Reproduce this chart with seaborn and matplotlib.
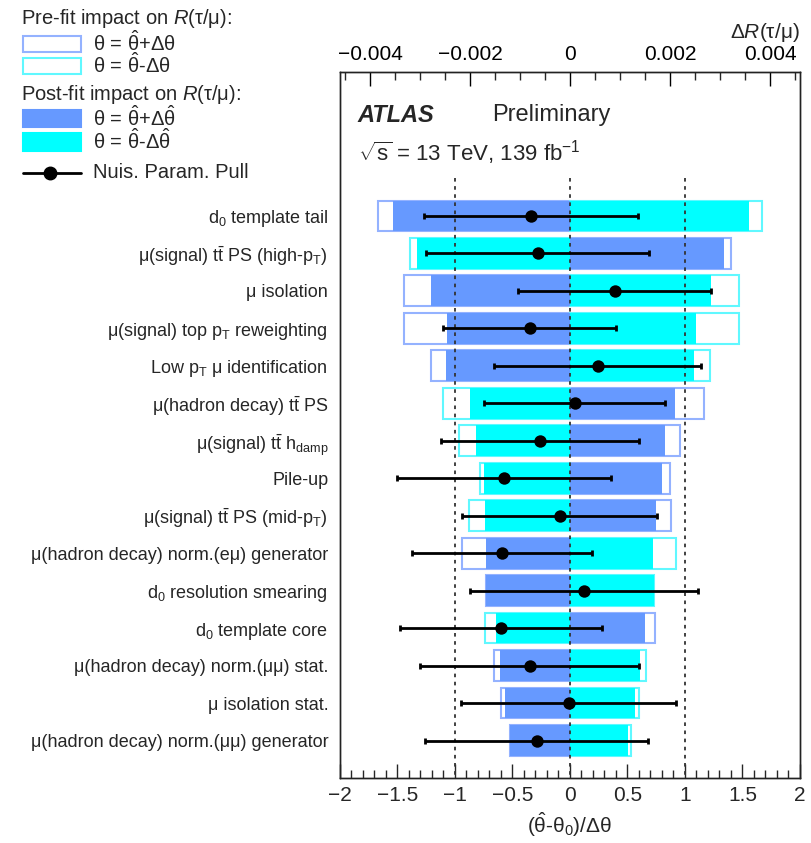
import numpy as np
import matplotlib
matplotlib.use("Agg")
import matplotlib.pyplot as plt
from matplotlib.patches import Rectangle
from matplotlib.lines import Line2D
from matplotlib.ticker import MultipleLocator, FuncFormatter
import seaborn as sns

# nuisance parameters, top to bottom
labels = [
    r"d$_0$ template tail",
    r"μ(signal) $\mathrm{t\bar{t}}$ PS (high-p$_\mathrm{T}$)",
    "μ isolation",
    r"μ(signal) top p$_\mathrm{T}$ reweighting",
    r"Low p$_\mathrm{T}$ μ identification",
    r"μ(hadron decay) $\mathrm{t\bar{t}}$ PS",
    r"μ(signal) $\mathrm{t\bar{t}}$ h$_\mathrm{damp}$",
    "Pile-up",
    r"μ(signal) $\mathrm{t\bar{t}}$ PS (mid-p$_\mathrm{T}$)",
    "μ(hadron decay) norm.(eμ) generator",
    r"d$_0$ resolution smearing",
    r"d$_0$ template core",
    "μ(hadron decay) norm.(μμ) stat.",
    "μ isolation stat.",
    "μ(hadron decay) norm.(μμ) generator",
]

# impact on R(tau/mu): theta = theta_hat + dtheta / - dtheta
prefit_up = [-0.00383, 0.00322, -0.00331, -0.00331, -0.00278, 0.00268, 0.00220, 0.00200,
             0.00203, -0.00215, -0.00168, 0.00170, -0.00151, -0.00138, -0.00120]
prefit_down = [0.00385, -0.00319, 0.00338, 0.00338, 0.00280, -0.00253, -0.00221, -0.00179,
               -0.00202, 0.00213, 0.00169, -0.00169, 0.00152, 0.00139, 0.00123]
postfit_up = [-0.00353, 0.00309, -0.00277, -0.00245, -0.00248, 0.00210, 0.00190, 0.00185,
              0.00172, -0.00167, -0.00167, 0.00151, -0.00139, -0.00129, -0.00119]
postfit_down = [0.00359, -0.00305, 0.00283, 0.00252, 0.00249, -0.00199, -0.00188, -0.00172,
                -0.00170, 0.00167, 0.00168, -0.00148, 0.00140, 0.00130, 0.00117]

# pulls (theta_hat - theta0)/dtheta and their errors
pull = [-0.34, -0.28, 0.39, -0.35, 0.24, 0.04, -0.26, -0.57, -0.09, -0.59, 0.12, -0.60,
        -0.35, -0.01, -0.29]
pull_err = [0.93, 0.97, 0.84, 0.75, 0.90, 0.79, 0.86, 0.93, 0.85, 0.78, 0.99, 0.88,
            0.95, 0.935, 0.97]

BLUE, CYAN = "#6699ff", "#00ffff"
BLUE_EDGE, CYAN_EDGE = "#94b2ff", "#60f8ff"

sns.set_theme(style="ticks")
plt.rcParams["font.family"] = ["Liberation Sans", "DejaVu Sans"]
plt.rcParams["mathtext.fontset"] = "custom"
plt.rcParams["mathtext.rm"] = "Liberation Sans"
plt.rcParams["mathtext.it"] = "Liberation Sans:italic"
plt.rcParams["mathtext.bf"] = "Liberation Sans:bold"

fig = plt.figure(figsize=(8.11, 8.43), dpi=100)
ax = fig.add_axes([0.4192, 0.0771, 0.5672, 0.8375])
axp = ax.twiny()
y = np.arange(len(labels))

# impact bars (top axis, in units of R)
ax.barh(y, prefit_up, height=0.82, facecolor="white", edgecolor=BLUE_EDGE, linewidth=1.5)
ax.barh(y, prefit_down, height=0.82, facecolor="white", edgecolor=CYAN_EDGE, linewidth=1.5)
ax.barh(y, postfit_up, height=0.82, color=BLUE, linewidth=0)
ax.barh(y, postfit_down, height=0.82, color=CYAN, linewidth=0)

ax.set_xlim(-0.0046, 0.0046)
ax.xaxis.tick_top()
ax.xaxis.set_label_position("top")
ax.xaxis.set_major_locator(MultipleLocator(0.002))
ax.xaxis.set_minor_locator(MultipleLocator(0.0005))
ax.xaxis.set_major_formatter(FuncFormatter(
    lambda v, _: "0" if abs(v) < 1e-9 else f"{v:.3f}".replace("-", "\u2212")))
ax.tick_params(axis="x", which="major", direction="in", length=10, width=1,
               labelsize=15, pad=6, colors="black", top=True, bottom=False,
               labeltop=True, labelbottom=False)
ax.tick_params(axis="x", which="minor", direction="in", length=5.5, width=1,
               top=True, bottom=False)
ax.set_xlabel(r"Δ$\mathit{R}$(τ/μ)", loc="right", fontsize=15, labelpad=5)

ax.set_yticks(y, labels)
ax.tick_params(axis="y", length=0, pad=8.5, labelsize=13)

# pull axis (bottom)
axp.xaxis.tick_bottom()
axp.xaxis.set_label_position("bottom")
axp.set_xlim(-2, 2)
axp.xaxis.set_major_locator(MultipleLocator(0.5))
axp.xaxis.set_minor_locator(MultipleLocator(0.1))
axp.xaxis.set_major_formatter(FuncFormatter(lambda v, _: f"{v:g}".replace("-", "\u2212")))
axp.tick_params(axis="x", which="major", direction="in", length=10, width=1,
                labelsize=15, pad=6, top=False, bottom=True,
                labeltop=False, labelbottom=True)
axp.tick_params(axis="x", which="minor", direction="in", length=5.5, width=1,
                top=False, bottom=True)
axp.set_xlabel(r"($\hat{\mathrm{\theta}}$-θ$_0$)/Δθ", fontsize=15, labelpad=4)

axp.vlines([-1, 0, 1], -1.0, 15.0, colors="#333333", linestyles=(0, (2, 2.5)), linewidth=1.3)
axp.errorbar(pull, y, xerr=pull_err, fmt="none", ecolor="black", elinewidth=2,
             capsize=2, capthick=2, zorder=4)
sns.scatterplot(x=pull, y=y, ax=axp, color="black", s=80, edgecolor="black",
                linewidth=0, zorder=5, legend=False)
axp.set_ylabel("")
ax.set_ylim(15.0, -3.84)

for a in (ax, axp):
    for s in a.spines.values():
        s.set_linewidth(1.0)
        s.set_color("#222222")

# ATLAS label
ax.text(0.037, 0.939, "ATLAS", transform=ax.transAxes, fontsize=17,
        fontweight="bold", fontstyle="italic", va="center")
ax.text(0.33, 0.939, "Preliminary", transform=ax.transAxes, fontsize=17, va="center")
ax.text(0.039, 0.885, r"$\sqrt{\mathrm{s}}$ = 13 TeV, 139 fb$^{-1}$",
        transform=ax.transAxes, fontsize=16, va="center")

# legend, drawn in figure coordinates
W, H = 811.0, 843.0


def fx(px):
    return px / W


def fy(py):
    return 1 - py / H


fig.text(fx(20.7), fy(19), r"Pre-fit impact on $\mathit{R}$(τ/μ):", fontsize=14.5, va="center")
fig.text(fx(20.7), fy(95), r"Post-fit impact on $\mathit{R}$(τ/μ):", fontsize=14.5, va="center")
swatches = [
    (36, 51.7, "white", BLUE_EDGE, r"θ = $\hat{\mathrm{\theta}}$+Δθ"),
    (58.3, 74, "white", CYAN_EDGE, r"θ = $\hat{\mathrm{\theta}}$-Δθ"),
    (110, 127.3, BLUE, BLUE, r"θ = $\hat{\mathrm{\theta}}$+Δ$\hat{\mathrm{\theta}}$"),
    (133.3, 150.7, CYAN, CYAN, r"θ = $\hat{\mathrm{\theta}}$-Δ$\hat{\mathrm{\theta}}$"),
]
for top, bot, fc, ec, txt in swatches:
    fig.add_artist(Rectangle((fx(22.7), fy(bot)), fx(80.7) - fx(22.7), fy(top) - fy(bot),
                             transform=fig.transFigure, facecolor=fc, edgecolor=ec,
                             linewidth=1.5))
    fig.text(fx(92.7), fy((top + bot) / 2 - 1), txt, fontsize=14.5, va="center")

fig.add_artist(Line2D([fx(22.7), fx(80.7)], [fy(173.3)] * 2, transform=fig.transFigure,
                      color="black", linewidth=2))
fig.add_artist(Line2D([fx(50)], [fy(173.3)], transform=fig.transFigure, color="black",
                      marker="o", markersize=9))
fig.text(fx(92.7), fy(173), "Nuis. Param. Pull", fontsize=14.5, va="center")

fig.savefig("out.png", dpi=100)
